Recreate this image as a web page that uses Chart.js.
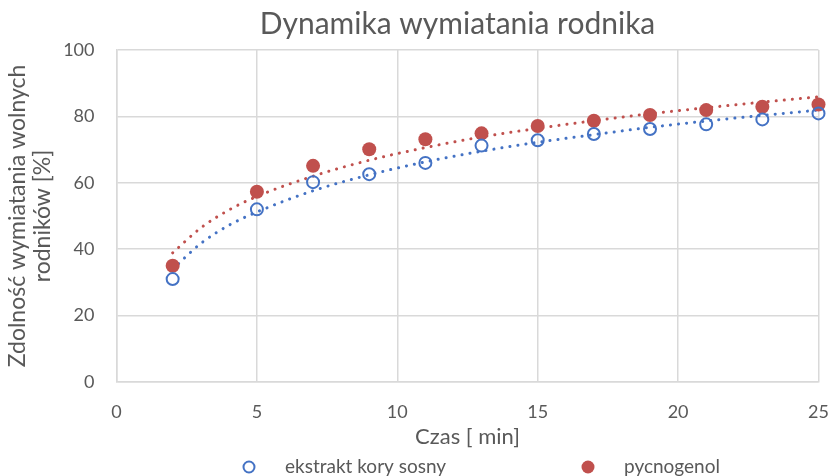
<!DOCTYPE html>
<html lang="pl">
<head>
    <meta charset="UTF-8">
    <title>Dynamika wymiatania rodnika</title>
    <style>
        body {
            margin: 0;
            background-color: white;
            overflow: hidden;
        }
        canvas {
            display: block;
        }
    </style>
    <script src="https://cdn.jsdelivr.net/npm/chart.js"></script>
</head>
<body>
    <canvas id="chart" width="832" height="476"></canvas>
    <script>
        // measured points
        const czas = [2, 5, 7, 9, 11, 13, 15, 17, 19, 21, 23, 25];
        const ekstrakt = [31.0, 52.0, 60.2, 62.6, 66.0, 71.2, 72.8, 74.7, 76.2, 77.6, 79.1, 80.9];
        const pycnogenol = [35.0, 57.3, 65.1, 70.1, 73.1, 74.9, 77.1, 78.7, 80.4, 81.9, 82.9, 83.6];

        // trend lines
        const trendCzas = [2, 3, 4, 5, 7, 9, 11, 13, 15, 17, 19, 21, 23, 25];
        const trendEkstrakt = [34.0, 41.7, 47.2, 51.2, 57.6, 62.4, 66.3, 69.5, 72.2, 74.5, 76.7, 78.6, 80.3, 81.9];
        const trendPycnogenol = [38.9, 46.4, 51.8, 55.9, 62.0, 66.8, 70.6, 73.8, 76.4, 78.7, 80.8, 82.6, 84.3, 85.9];

        const xTicks = [0, 5, 10, 15, 20, 25];
        const yTicks = [0, 20, 40, 60, 80, 100];

        const BLUE = '#4472C4';
        const RED = '#C0504D';
        const TEXT = '#595959';
        const GRID = '#D9D9D9';
        const FONT = 'Lato';

        function pairs(xs, ys) {
            return xs.map((x, i) => ({ x: x, y: ys[i] }));
        }

        // legend drawn under the axis title, Excel style
        const bottomLegend = {
            id: 'bottomLegend',
            afterDraw(chart) {
                const ctx = chart.ctx;
                const area = chart.chartArea;
                const items = chart.data.datasets.filter(d => d.inLegend);
                const y = 467;
                let x = area.left + 132.5;
                ctx.save();
                ctx.font = '19px ' + FONT;
                ctx.textBaseline = 'middle';
                items.forEach(d => {
                    ctx.beginPath();
                    ctx.arc(x, y, d.legendRadius, 0, Math.PI * 2);
                    if (d.legendFill) {
                        ctx.fillStyle = d.borderColor;
                        ctx.fill();
                    } else {
                        ctx.lineWidth = 2;
                        ctx.strokeStyle = d.borderColor;
                        ctx.stroke();
                    }
                    ctx.fillStyle = TEXT;
                    ctx.fillText(d.label, x + 36, y);
                    x += 339;
                });
                ctx.restore();
            }
        };

        // title sits a bit left of the plot centre in the original
        const shiftTitle = {
            id: 'shiftTitle',
            afterLayout(chart) {
                if (chart.titleBlock) chart.titleBlock.left -= 20;
            }
        };

        new Chart(document.getElementById('chart'), {
            type: 'scatter',
            data: {
                datasets: [
                    {
                        label: 'ekstrakt kory sosny',
                        data: pairs(czas, ekstrakt),
                        borderColor: BLUE,
                        backgroundColor: 'rgba(0,0,0,0)',
                        pointRadius: 6,
                        pointBorderWidth: 2,
                        clip: false,
                        inLegend: true,
                        legendRadius: 5.5,
                        legendFill: false
                    },
                    {
                        label: 'pycnogenol',
                        data: pairs(czas, pycnogenol),
                        borderColor: RED,
                        backgroundColor: RED,
                        pointRadius: 7,
                        pointBorderWidth: 0,
                        clip: false,
                        inLegend: true,
                        legendRadius: 6.5,
                        legendFill: true
                    },
                    {
                        label: 'trend ekstrakt',
                        data: pairs(trendCzas, trendEkstrakt),
                        showLine: true,
                        borderColor: BLUE,
                        borderWidth: 3,
                        borderDash: [0.1, 8],
                        borderCapStyle: 'round',
                        cubicInterpolationMode: 'monotone',
                        pointRadius: 0,
                        clip: false
                    },
                    {
                        label: 'trend pycnogenol',
                        data: pairs(trendCzas, trendPycnogenol),
                        showLine: true,
                        borderColor: RED,
                        borderWidth: 3,
                        borderDash: [0.1, 8],
                        borderCapStyle: 'round',
                        cubicInterpolationMode: 'monotone',
                        pointRadius: 0,
                        clip: false
                    }
                ]
            },
            options: {
                responsive: false,
                animation: false,
                layout: {
                    padding: { left: 0, right: 0, top: 0, bottom: 24 }
                },
                plugins: {
                    legend: { display: false },
                    tooltip: { enabled: false },
                    title: {
                        display: true,
                        text: 'Dynamika wymiatania rodnika',
                        color: TEXT,
                        fullSize: false,
                        font: { family: FONT, size: 30, weight: 'normal', lineHeight: 1.2 },
                        padding: { top: 6, bottom: 8 }
                    }
                },
                scales: {
                    x: {
                        type: 'linear',
                        min: 0,
                        max: 25,
                        afterBuildTicks: axis => { axis.ticks = xTicks.map(v => ({ value: v })); },
                        afterFit: axis => {
                            axis.height = 70;
                            // tick padding is vertical here, don't let it eat the right side
                            axis.paddingLeft = 0;
                            axis.paddingRight = 13.5;
                        },
                        grid: { color: GRID, lineWidth: 1.5, drawTicks: false },
                        border: { color: GRID, width: 1.5 },
                        ticks: {
                            color: TEXT,
                            padding: 19,
                            font: { family: FONT, size: 18 }
                        },
                        title: {
                            display: true,
                            text: 'Czas [ min]',
                            color: TEXT,
                            font: { family: FONT, size: 22, lineHeight: 1.2 },
                            padding: { top: 2, bottom: 2 }
                        }
                    },
                    y: {
                        min: 0,
                        max: 100,
                        afterBuildTicks: axis => { axis.ticks = yTicks.map(v => ({ value: v })); },
                        afterFit: axis => { axis.width = 116.5; },
                        grid: { color: GRID, lineWidth: 1.5, drawTicks: false },
                        border: { color: GRID, width: 1.5 },
                        ticks: {
                            color: TEXT,
                            padding: 22,
                            font: { family: FONT, size: 18 }
                        },
                        title: {
                            display: true,
                            text: ['Zdolność wymiatania wolnych', 'rodników [%]'],
                            color: TEXT,
                            font: { family: FONT, size: 23, lineHeight: 1.05 },
                            padding: { top: 6, bottom: 6 }
                        }
                    }
                }
            },
            plugins: [bottomLegend, shiftTitle]
        });
    </script>
</body>
</html>
